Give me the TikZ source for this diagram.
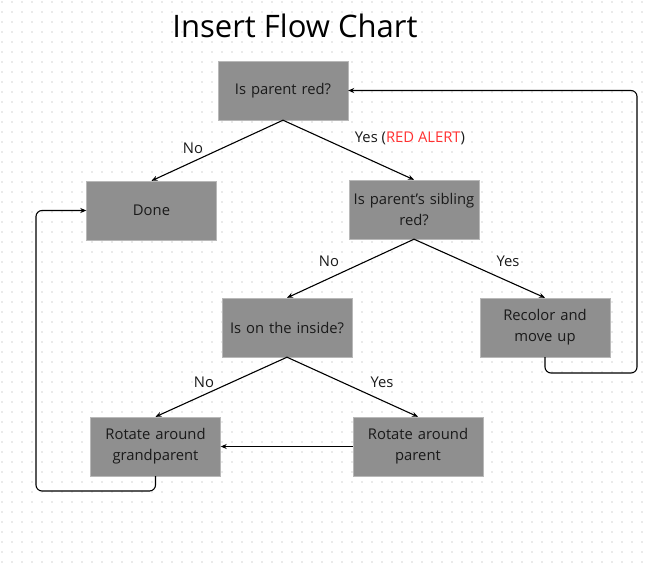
\documentclass[tikz,border=0pt]{standalone}
\usepackage{fontspec}
\setmainfont{Open Sans}
\usetikzlibrary{arrows.meta, positioning}
\definecolor{boxgray}{HTML}{8F8F8F}
\definecolor{boxedge}{HTML}{B8B8B8}
\definecolor{alertred}{HTML}{FF3131}
\definecolor{dotgray}{HTML}{EAEAEA}
\definecolor{inkdark}{HTML}{1A1A1A}

\begin{document}
\begin{tikzpicture}[x=1pt, y=-1pt,
        box/.style={draw=boxedge, fill=boxgray, minimum width=130pt, minimum height=59pt, align=center, text width=126pt, font=\fontsize{14.8}{21}\selectfont, text=inkdark, inner sep=0pt},
        lbl/.style={font=\fontsize{14.8}{16}\selectfont, text=inkdark, inner sep=0pt},
        arr/.style={-{Stealth[length=6pt, width=5pt]}, line width=1.1pt}]
    \useasboundingbox (0,0) rectangle (646,570);
    \fill[white] (0,0) rectangle (646,570);
    % dotted backdrop
    \foreach \r in {0,...,56}
        \draw[dotgray, line width=2pt, dash pattern=on 2pt off 8pt] (1,2+10*\r) -- (646,2+10*\r);

    \node[font=\fontsize{31}{34}\selectfont, text=black] (title) at (295,26) {Insert Flow Chart};

    \node[box] (parent) at (283,90.5) {Is parent red?};
    \node[box] (done) at (151.5,210.5) {Done};
    \node[box] (sibling) at (414,209.5) {Is parent’s sibling\\red?};
    \node[box] (inside) at (287,327.5) {Is on the inside?};
    \node[box] (recolor) at (545,327.5) {Recolor and\\move up};
    \node[box] (grand) at (155.5,446.5) {Rotate around\\grandparent};
    \node[box] (rotpar) at (418,446.5) {Rotate around\\parent};

    \coordinate (loopR) at (637,373);
    \coordinate (loopL) at (36,491);

    \draw[arr] (parent.south) -- (done.north);
    \draw[arr] (parent.south) -- (sibling.north);
    \draw[arr] (sibling.south) -- (inside.north);
    \draw[arr] (sibling.south) -- (recolor.north);
    \draw[arr] (inside.south) -- (grand.north);
    \draw[arr] (inside.south) -- (rotpar.north);
    \draw[arr] (rotpar.west) -- (grand.east);
    \draw[arr, rounded corners=6pt] (recolor.south) |- (loopR) |- (parent.east);
    \draw[arr, rounded corners=6pt] (grand.south) |- (loopL) |- (done.west);

    \node[lbl] (no1) at (193,148) {No};
    \node[lbl] (yes1) at (410,138) {Yes (\textcolor{alertred}{RED ALERT})};
    \node[lbl] (no2) at (329,261) {No};
    \node[lbl] (yes2) at (508,261) {Yes};
    \node[lbl] (no3) at (204,382) {No};
    \node[lbl] (yes3) at (382,382) {Yes};
\end{tikzpicture}
\end{document}
